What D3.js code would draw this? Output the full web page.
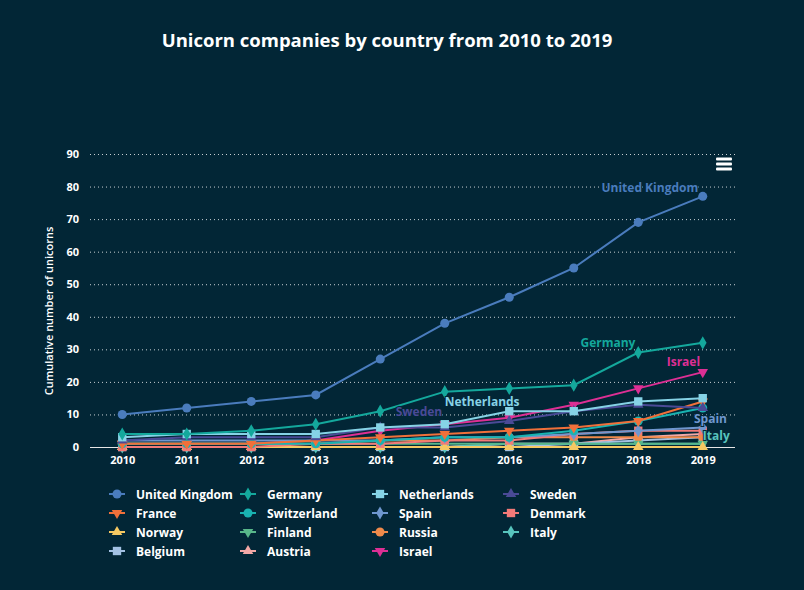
<!DOCTYPE html>
<html><head><meta charset="utf-8">
<script src="https://cdn.jsdelivr.net/npm/d3@7"></script>
<style>
html,body{margin:0;padding:0;background:#022636;}
svg{display:block;font-family:"Open Sans","Lato",sans-serif;}
</style></head>
<body><svg id="c" width="804" height="590"></svg>
<script>
const years = ["2010","2011","2012","2013","2014","2015","2016","2017","2018","2019"];
const yTicks = [0,10,20,30,40,50,60,70,80,90];
const countries = ["United Kingdom","Germany","Netherlands","Sweden","France","Switzerland","Spain","Denmark","Norway","Finland","Russia","Italy","Belgium","Austria","Israel"];
const colors = ["#4a7cbd","#14a89c","#86d3e6","#4a4a96","#f0703a","#19b3b1","#6f97cf","#f37a78","#f5c862","#58b78a","#f08a4b","#58c4bd","#a3c1e3","#f3a8a6","#dd2f94"];
const symbols = ["circle","diamond","square","triangle","triangle-down","circle","diamond","square","triangle","triangle-down","circle","diamond","square","triangle","triangle-down"];
const values = [
  [10,12,14,16,27,38,46,55,69,77],
  [4,4,5,7,11,17,18,19,29,32],
  [3,4,4,4,6,7,11,11,14,15],
  [2,3,3,3,6,6,8,11,13,12],
  [1,1,1,2,3,4,5,6,8,14],
  [1,1,1,1,2,3,3,5,8,12],
  [2,2,2,2,2,3,3,4,5,6],
  [0,0,0,1,1,2,2,4,5,5],
  [0,0,0,0,0,0,0,0,0,0],
  [1,1,1,1,1,1,1,1,1,1],
  [1,1,1,1,2,2,3,3,3,3],
  [0,0,0,0,0,0,1,1,1,1],
  [0,0,0,0,0,0,0,1,2,3],
  [0,0,0,0,0,0,1,1,3,4],
  [1,1,1,2,5,7,9,13,18,23]
];
// series labels: anchor year + value (data coordinates)
const labelNames = ["United Kingdom","Germany","Israel","Netherlands","Sweden","Spain","Italy"];
const labelYears = ["2018","2018","2019","2015","2014","2019","2019"];
const labelValues = [78.2,30.7,24.8,12.6,9.5,7.3,2.2];
const labelShift = [0.18,-0.47,-0.3,0.58,0.6,0.12,0.21];

const svg = d3.select("#c");
svg.append("rect").attr("width",804).attr("height",590).attr("fill","#022636");

const L=90, R=735, T=154, B=447;
const x = d3.scalePoint().domain(years).range([L,R]).padding(0.5);
const y = d3.scaleLinear().domain([0,90]).range([B,T]);

svg.append("text").attr("x",387).attr("y",47).attr("text-anchor","middle")
  .attr("fill","#fff").attr("font-size",18.5).attr("font-weight",700)
  .attr("font-family","'Open Sans', sans-serif")
  .text("Unicorn companies by country from 2010 to 2019");

// grid
const gy = svg.append("g").attr("transform",`translate(${L},0)`)
  .call(d3.axisLeft(y).tickValues(yTicks).tickSize(-(R-L)).tickFormat(""));
gy.select(".domain").remove();
gy.selectAll("line").attr("stroke","#c8d0d4").attr("stroke-width",1).attr("stroke-dasharray","1,3")
  .filter(d=>d===0).attr("stroke",null);
// y labels
const gl = svg.append("g").attr("transform",`translate(${L-8},0)`)
  .call(d3.axisLeft(y).tickValues(yTicks).tickSize(0));
gl.select(".domain").remove();
gl.selectAll("text").attr("fill","#fff").attr("font-size",11).attr("font-weight",700)
  .attr("font-family","'Open Sans',sans-serif").attr("x",-3);

// x axis
const gx = svg.append("g").attr("transform",`translate(0,${B})`)
  .call(d3.axisBottom(x).tickSize(0).tickPadding(9));
gx.select(".domain").attr("stroke","#e6e6e6").attr("d",`M${L},0.5H${R}`);
gx.selectAll("text").attr("fill","#fff").attr("font-size",11).attr("font-weight",700)
  .attr("font-family","'Open Sans',sans-serif");

svg.append("text").attr("transform","translate(53,311) rotate(-90)").attr("text-anchor","middle")
  .attr("fill","#fff").attr("font-size",11).attr("font-weight",600)
  .attr("font-family","'Open Sans',sans-serif")
  .text("Cumulative number of unicorns");

const symType = {circle:d3.symbolCircle, diamond:d3.symbolDiamond, square:d3.symbolSquare, triangle:d3.symbolTriangle, "triangle-down":d3.symbolTriangle};
const symSize = {circle:64, diamond:50, square:70, triangle:48, "triangle-down":48};
function sym(s){ return d3.symbol().type(symType[s]).size(symSize[s])(); }

const line = d3.line().x((d,i)=>x(years[i])).y(d=>y(d));
const plot = svg.append("g");
for(let k=countries.length-1;k>=0;k--){
  const g = plot.append("g");
  g.append("path").attr("d",line(values[k])).attr("fill","none").attr("stroke",colors[k]).attr("stroke-width",2);
  g.selectAll("path.m").data(values[k]).join("path").attr("class","m")
    .attr("d",sym(symbols[k]))
    .attr("transform",(d,i)=>`translate(${x(years[i])},${y(d)})${symbols[k]==="triangle-down"?" rotate(180)":""}`)
    .attr("fill",colors[k]);
}

// series labels
labelNames.forEach((n,i)=>{
  const ci = countries.indexOf(n);
  svg.append("text").attr("x",x(labelYears[i])+labelShift[i]*x.step()).attr("y",y(labelValues[i]))
    .attr("text-anchor","middle").attr("font-size",12).attr("font-weight",700)
    .attr("font-family","'Open Sans',sans-serif")
    .attr("fill",colors[ci]).attr("stroke","#022636").attr("stroke-width",2).attr("paint-order","stroke")
    .text(n);
});

// menu icon
[159,164,169].forEach(yy=>svg.append("rect").attr("x",716).attr("y",yy-1.5).attr("width",16).attr("height",3).attr("rx",1).attr("fill","#fff"));

// legend
const legX = [117,248,380,511], legY0 = 494, legDY = 19;
countries.forEach((n,i)=>{
  const col=i%4, row=Math.floor(i/4);
  const g = svg.append("g").attr("transform",`translate(${legX[col]},${legY0+row*legDY})`);
  g.append("line").attr("x1",-8).attr("x2",8).attr("stroke",colors[i]).attr("stroke-width",2);
  g.append("path").attr("d",sym(symbols[i])).attr("fill",colors[i])
    .attr("transform",symbols[i]==="triangle-down"?"rotate(180)":null);
  g.append("text").attr("x",19).attr("y",4.5).attr("fill","#fff").attr("font-size",12).attr("font-weight",700)
    .attr("font-family","'Open Sans',sans-serif").text(n);
});
</script></body></html>
